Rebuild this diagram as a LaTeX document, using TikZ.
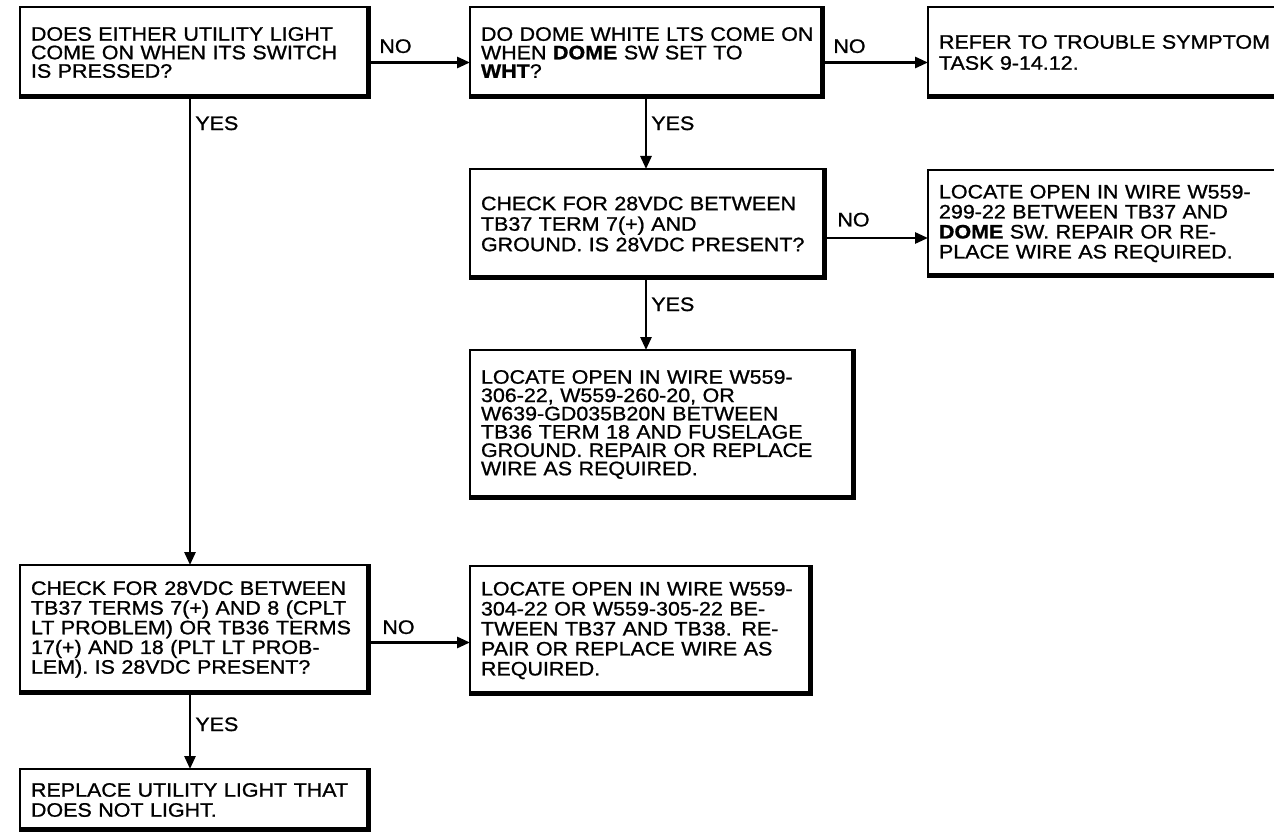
\documentclass[tikz,border=0pt]{standalone}
\usepackage{fontspec}
\setmainfont[FakeStretch=1.1,FakeBold=1]{Liberation Sans}
\usetikzlibrary{arrows.meta}
\tikzset{
  box/.style={draw, line width=2pt, inner xsep=11pt, inner ysep=0pt, outer sep=0pt, align=left, fill=white},
  lsp/.style={font=\fontsize{19.5}{#1}\selectfont},
  conn/.style={line width=2.8pt, -{Triangle[length=13pt,width=11pt]}},
  lab/.style={inner sep=0pt, font=\fontsize{19.5}{19.5}\selectfont}
}
\newcommand\thk[1]{\draw[line width=5pt] ([xshift=-1.5pt]#1.north east) -- ([xshift=-1.5pt,yshift=1.5pt]#1.south east) -- ([yshift=1.5pt]#1.south west);}
\begin{document}
\begin{tikzpicture}[x=1pt,y=-1pt]
\useasboundingbox (0,0) rectangle (1274,834);
\clip (0,0) rectangle (1274,834);
\fill[white] (0,0) rectangle (1274,834);

\node[box, lsp=18.5, minimum width=350pt, minimum height=91pt, text width=328pt] (B1) at (195,52.5)
  {\mbox{DOES EITHER UTILITY LIGHT}\\\mbox{COME ON WHEN ITS SWITCH}\\IS PRESSED?};
\node[box, lsp=18.5, minimum width=354pt, minimum height=91pt, text width=332pt] (B2) at (647,52.5)
  {\mbox{DO DOME WHITE LTS COME ON}\\\mbox{WHEN \textbf{DOME} SW SET TO}\\\textbf{WHT}?};
\node[box, lsp=21, minimum width=372pt, minimum height=91pt, text width=350pt] (B3) at (1114,52.5)
  {\mbox{REFER TO TROUBLE SYMPTOM}\\TASK 9-14.12.};
\node[box, lsp=20.5, minimum width=356pt, minimum height=110pt, text width=334pt] (B4) at (648,224)
  {\mbox{CHECK FOR 28VDC BETWEEN}\\\mbox{TB37 TERM 7(+) AND}\\\mbox{GROUND. IS 28VDC PRESENT?}};
\node[box, lsp=20, minimum width=372pt, minimum height=107pt, text width=350pt] (B5) at (1114,223.5)
  {\mbox{LOCATE OPEN IN WIRE W559-}\\\mbox{299-22 BETWEEN TB37 AND}\\\mbox{\textbf{DOME} SW. REPAIR OR RE-}\\\mbox{PLACE WIRE AS REQUIRED.}};
\node[box, lsp=18.3, minimum width=385pt, minimum height=149pt, text width=363pt] (B6) at (662.5,424.5)
  {\mbox{LOCATE OPEN IN WIRE W559-}\\\mbox{306-22, W559-260-20, OR}\\\mbox{W639-GD035B20N BETWEEN}\\\mbox{TB36 TERM 18 AND FUSELAGE}\\\mbox{GROUND. REPAIR OR REPLACE}\\WIRE AS REQUIRED.};
\node[box, lsp=19.7, minimum width=350pt, minimum height=129pt, text width=328pt] (B7) at (195,629.5)
  {\mbox{CHECK FOR 28VDC BETWEEN}\\\mbox{TB37 TERMS 7(+) AND 8 (CPLT}\\\mbox{LT PROBLEM) OR TB36 TERMS}\\\mbox{17(+) AND 18 (PLT LT PROB-}\\\mbox{LEM). IS 28VDC PRESENT?}};
\node[box, lsp=20, minimum width=342pt, minimum height=129pt, text width=320pt] (B8) at (641,630.5)
  {\mbox{LOCATE OPEN IN WIRE W559-}\\\mbox{304-22 OR W559-305-22 BE-}\\\mbox{TWEEN TB37 AND TB38. RE-}\\\mbox{PAIR OR REPLACE WIRE AS}\\REQUIRED.};
\node[box, lsp=20, minimum width=350pt, minimum height=62pt, text width=328pt] (B9) at (195,800)
  {\mbox{REPLACE UTILITY LIGHT THAT}\\DOES NOT LIGHT.};

\foreach \n in {B1,B2,B3,B4,B5,B6,B7,B8,B9} {\thk{\n}}

% NO connectors
\draw[conn] ([yshift=-10pt]B1.east) -- ([yshift=-10pt]B1.east -| B2.west)
  node[lab, pos=0, anchor=south west, xshift=8pt, yshift=8pt] {NO};
\draw[conn] ([yshift=-10pt]B2.east) -- ([yshift=-10pt]B2.east -| B3.west)
  node[lab, pos=0, anchor=south west, xshift=8pt, yshift=8pt] {NO};
\draw[conn] ([yshift=-14pt]B4.east) -- ([yshift=-14pt]B4.east -| B5.west)
  node[lab, pos=0, anchor=south west, xshift=10pt, yshift=10pt] {NO};
\draw[conn] ([yshift=-13pt]B7.east) -- ([yshift=-13pt]B7.east -| B8.west)
  node[lab, pos=0, anchor=south west, xshift=11pt, yshift=7pt] {NO};

% YES connectors
\draw[conn] ([xshift=-5pt]B1.south) -- ([xshift=-5pt]B7.north)
  node[lab, pos=0, anchor=north west, xshift=4pt, yshift=-17pt] {YES};
\draw[conn] ([xshift=-1pt]B2.south) -- ([xshift=-1pt]B2.south |- B4.north)
  node[lab, pos=0, anchor=north west, xshift=4pt, yshift=-17pt] {YES};
\draw[conn] ([xshift=-2pt]B4.south) -- ([xshift=-2pt]B4.south |- B6.north)
  node[lab, pos=0, anchor=north west, xshift=4pt, yshift=-17pt] {YES};
\draw[conn] ([xshift=-5pt]B7.south) -- ([xshift=-5pt]B9.north)
  node[lab, pos=0, anchor=north west, xshift=4pt, yshift=-22pt] {YES};
\end{tikzpicture}
\end{document}
